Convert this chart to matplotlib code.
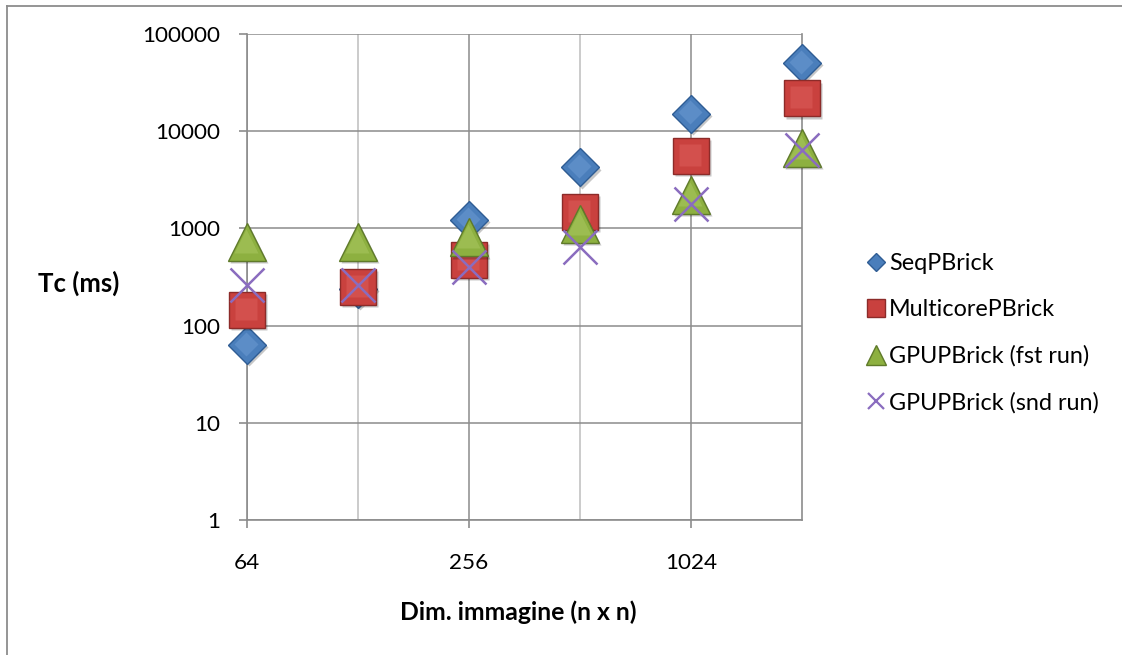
import matplotlib
matplotlib.use("Agg")
import matplotlib.pyplot as plt
import matplotlib.transforms as mtransforms
from matplotlib.lines import Line2D
from matplotlib.ticker import FixedLocator, NullFormatter

# Image sizes (n x n) and compute times in ms
sizes = [64, 128, 256, 512, 1024, 2048]
seq_pbrick = [63, 240, 1230, 4250, 15200, 50000]
multicore_pbrick = [145, 250, 470, 1480, 5550, 21800]
gpu_fst_run = [720, 720, 810, 1110, 2200, 6700]
gpu_snd_run = [262, 262, 400, 640, 1780, 6400]

series_labels = ["SeqPBrick", "MulticorePBrick", "GPUPBrick (fst run)", "GPUPBrick (snd run)"]
x_tick_labels = ["64", "256", "1024"]
y_tick_labels = ["1", "10", "100", "1000", "10000", "100000"]

FONT = "Lato"
plt.rcParams["font.family"] = [FONT, "DejaVu Sans"]

fig = plt.figure(figsize=(11.22, 6.55), dpi=100)
ax = fig.add_axes([247 / 1122, 1 - 520 / 655, (802 - 247) / 1122, (520 - 34) / 655])

ax.set_xscale("log", base=2)
ax.set_yscale("log")
ax.set_xlim(64, 2048)
ax.set_ylim(1, 100000)

grid_major = "#8c8c8c"
grid_minor = "#bdbdbd"

ax.xaxis.set_major_locator(FixedLocator([64, 256, 1024]))
ax.xaxis.set_minor_locator(FixedLocator([128, 512]))
ax.xaxis.set_minor_formatter(NullFormatter())
ax.set_xticklabels(x_tick_labels)
ax.yaxis.set_major_locator(FixedLocator([1, 10, 100, 1000, 10000, 100000]))
ax.yaxis.set_minor_locator(FixedLocator([]))
ax.set_yticklabels(y_tick_labels)

ax.grid(True, which="major", color=grid_major, linewidth=1.1, zorder=0)
ax.grid(True, which="minor", axis="x", color=grid_minor, linewidth=1.1, zorder=0)
ax.set_axisbelow(True)

for side in ["left", "bottom", "top", "right"]:
    ax.spines[side].set_color(grid_major)
    ax.spines[side].set_linewidth(1.2)
ax.spines["top"].set_visible(False)

ax.tick_params(axis="both", which="major", length=6, width=1.2, color=grid_major,
               labelsize=16.2, labelcolor="black")
ax.tick_params(axis="y", pad=13)
ax.tick_params(axis="x", pad=18)
ax.tick_params(axis="x", which="minor", length=0)

ax.set_ylabel("Tc (ms)", fontsize=18.5, fontweight="bold", rotation=0,
              ha="center", va="center")
ax.yaxis.set_label_coords(-0.303, 0.488, transform=ax.transAxes)
ax.set_xlabel("Dim. immagine (n x n)", fontsize=17.8, fontweight="bold", va="center")
ax.xaxis.set_label_coords(0.489, -0.189)

shadow = mtransforms.offset_copy(ax.transData, fig=fig, x=1.6, y=-1.6, units="points")
shine = mtransforms.offset_copy(ax.transData, fig=fig, x=-0.6, y=0.8, units="points")

styles = [
    dict(marker="D", ms=19.5, face="#4a7ebb", edge="#2f5d94", light="#6c9ad2", z=3),
    dict(marker="s", ms=26.5, face="#c9413e", edge="#8c2b29", light="#dc5d5a", z=4),
    dict(marker="^", ms=28, face="#8db040", edge="#5f7a2a", light="#a9c760", z=5),
]
values = [seq_pbrick, multicore_pbrick, gpu_fst_run]

for st, vals in zip(styles, values):
    ax.plot(sizes, vals, linestyle="none", marker=st["marker"], ms=st["ms"],
            mfc="#000000", mec="none", alpha=0.22, transform=shadow, zorder=st["z"],
            clip_on=False)
    ax.plot(sizes, vals, linestyle="none", marker=st["marker"], ms=st["ms"],
            mfc=st["face"], mec=st["edge"], mew=1.0, zorder=st["z"], clip_on=False)
    ax.plot(sizes, vals, linestyle="none", marker=st["marker"], ms=st["ms"] * 0.62,
            mfc=st["light"], mec="none", alpha=0.55, transform=shine, zorder=st["z"],
            clip_on=False)

ax.plot(sizes, gpu_snd_run, linestyle="none", marker="x", ms=25, mec="#8a6cbf",
        mew=1.8, zorder=6, clip_on=False)

handles = [
    Line2D([], [], linestyle="none", marker="D", ms=9.5, mfc="#4a7ebb", mec="#2f5d94"),
    Line2D([], [], linestyle="none", marker="s", ms=13.5, mfc="#c9413e", mec="#8c2b29"),
    Line2D([], [], linestyle="none", marker="^", ms=14, mfc="#8db040", mec="#5f7a2a"),
    Line2D([], [], linestyle="none", marker="x", ms=12, mec="#8a6cbf", mew=1.6),
]
leg = fig.legend(handles, series_labels, loc="upper left",
                 bbox_to_anchor=(867 / 1122, 1 - 253 / 655), frameon=False,
                 fontsize=16.8, handlelength=0.8, handletextpad=0.15,
                 labelspacing=1.08, borderpad=0, borderaxespad=0)

# Chart frame (top and left edges)
fig.add_artist(Line2D([7 / 1122, 1.0], [1 - 6 / 655, 1 - 6 / 655], color="#8c8c8c",
                      linewidth=1.3, transform=fig.transFigure))
fig.add_artist(Line2D([7 / 1122, 7 / 1122], [0.0, 1 - 6 / 655], color="#8c8c8c",
                      linewidth=1.3, transform=fig.transFigure))

fig.savefig("out.png", dpi=100, facecolor="white")
